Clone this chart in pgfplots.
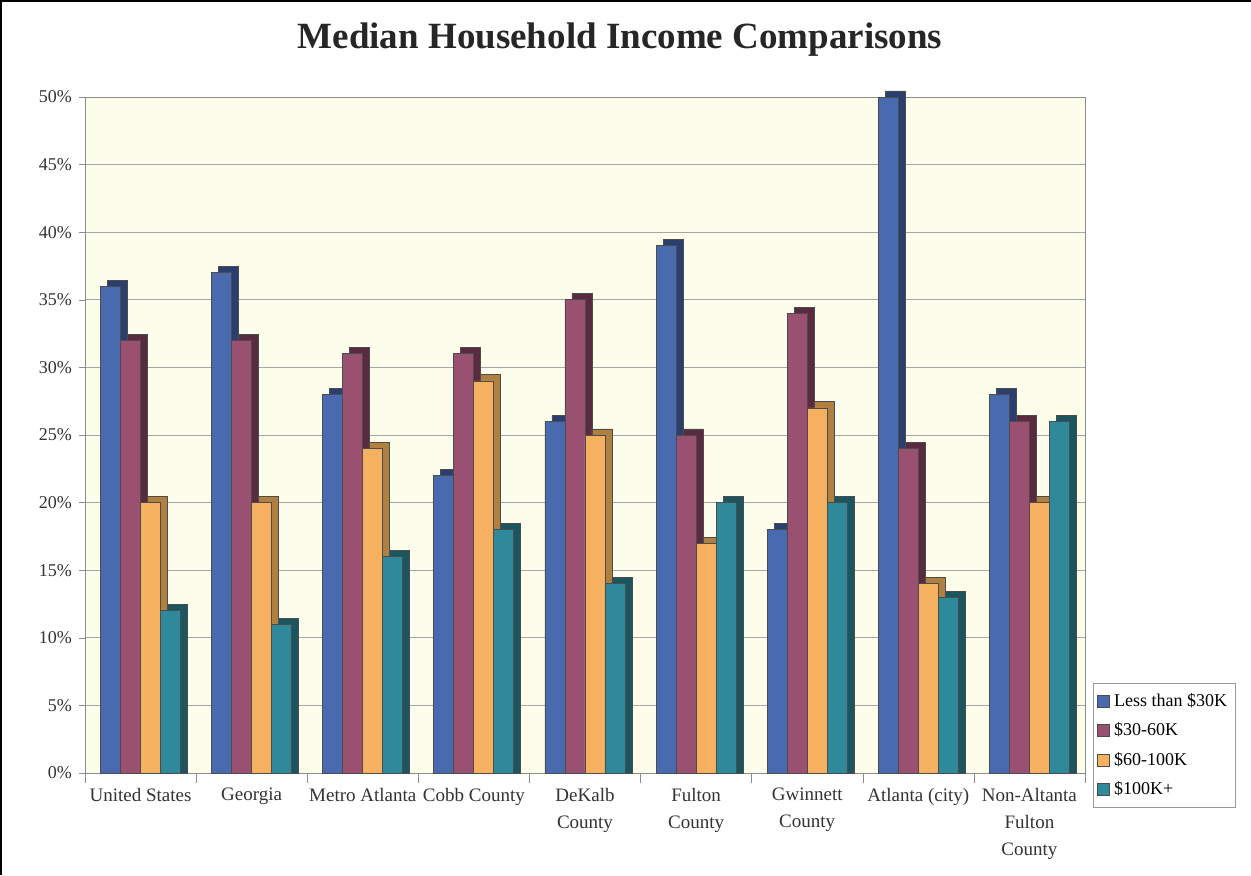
\documentclass[border=0pt]{standalone}
\usepackage{pgfplots}
\pgfplotsset{compat=1.18}
\usepackage{pgfplotstable}
\usepackage{fontspec}
\setmainfont{Liberation Serif}
\definecolor{cblue}{HTML}{4A6AB0}
\definecolor{cblued}{HTML}{2A3E70}
\definecolor{cpurp}{HTML}{9A5070}
\definecolor{cpurpd}{HTML}{5A2A40}
\definecolor{corng}{HTML}{F5B060}
\definecolor{corngd}{HTML}{B08040}
\definecolor{cteal}{HTML}{2E8A9A}
\definecolor{ctealdd}{HTML}{1A5560}
\definecolor{wall}{HTML}{FDFDEC}
\pgfplotstableread{
x a b c d
0 36 32 20 12
1 37 32 20 11
2 28 31 24 16
3 22 31 29 18
4 26 35 25 14
5 39 25 17 20
6 18 34 27 20
7 50 24 14 13
8 28 26 20 26
}\data
\begin{document}
\begin{tikzpicture}
\useasboundingbox (0,0) rectangle (625.5pt,437.5pt);
\fill[white] (0,0) rectangle (625.5pt,437.5pt);
\draw[line width=1.2pt] (0.6pt,0) -- (0.6pt,436.9pt) -- (625.5pt,436.9pt);
\node[font=\bfseries\fontsize{18.5}{22}\selectfont, text=black!85] at (310pt,417.5pt) {Median Household Income Comparisons};
\begin{axis}[
  at={(42.5pt,51pt)}, anchor=south west,
  scale only axis, width=500pt, height=338pt,
  xmin=-0.5, xmax=8.5, ymin=0, ymax=50,
  clip=false,
  axis background/.style={fill=wall},
  axis line style={draw=black!45},
  ybar,
  bar width=10pt,
  xtick={0,...,8},
  xtick pos=lower, ytick pos=left,
  xticklabels={{United States},{Georgia},{Metro Atlanta},{Cobb County},{DeKalb\\County},{Fulton\\County},{Gwinnett\\County},{Atlanta (city)},{Non-Altanta\\Fulton\\County}},
  major x tick style={draw=none},
  minor xtick={-0.5,0.5,...,8.5},
  minor x tick style={draw=black!45},
  minor tick length=5pt,
  xticklabel style={align=center, font=\fontsize{9.5}{13.5}\selectfont, text=black!80, yshift=-1pt},
  ytick={0,5,...,50},
  yticklabel={\pgfmathprintnumber{\tick}\%},
  /pgf/number format/assume math mode=true,
  yticklabel style={font=\fontsize{9}{10}\selectfont, text=black!80},
  ytick style={draw=black!45},
  major tick length=3pt,
  tick align=outside,
  ymajorgrids,
  grid style={draw=black!35, line width=0.5pt},
  legend style={at={(1.008,0.133)}, anchor=north west, draw=black!40, fill=white,
     font=\fontsize{9}{10}\selectfont, row sep=2.6pt, inner xsep=2pt, inner ysep=3pt},
  legend cell align=left,
  legend image code/.code={\draw[#1, draw=black!70] (0pt,-3pt) rectangle (6pt,3pt);},
]
\addplot[fill=cblued, draw=black!70, bar shift=-11.5pt, forget plot] table[x=x, y expr=\thisrow{a}+0.45] {\data};
\addplot[fill=cblue, draw=black!70, bar shift=-15pt] table[x=x, y=a] {\data};
\addplot[fill=cpurpd, draw=black!70, bar shift=-1.5pt, forget plot] table[x=x, y expr=\thisrow{b}+0.45] {\data};
\addplot[fill=cpurp, draw=black!70, bar shift=-5pt] table[x=x, y=b] {\data};
\addplot[fill=corngd, draw=black!70, bar shift=8.5pt, forget plot] table[x=x, y expr=\thisrow{c}+0.45] {\data};
\addplot[fill=corng, draw=black!70, bar shift=5pt] table[x=x, y=c] {\data};
\addplot[fill=ctealdd, draw=black!70, bar shift=18.5pt, forget plot] table[x=x, y expr=\thisrow{d}+0.45] {\data};
\addplot[fill=cteal, draw=black!70, bar shift=15pt] table[x=x, y=d] {\data};
\legend{Less than \$30K, \$30-60K, \$60-100K, \$100K+}
\end{axis}
\end{tikzpicture}
\end{document}
